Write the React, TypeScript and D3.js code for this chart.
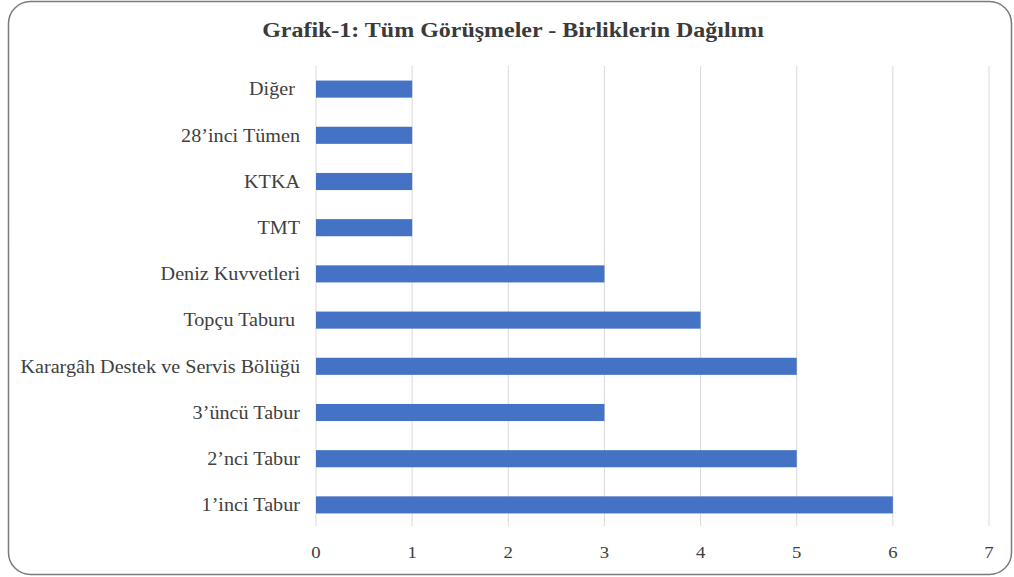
import React from 'react';
import * as d3 from 'd3';

const title = 'Grafik-1: Tüm Görüşmeler - Birliklerin Dağılımı';
const categories = [
  'Diğer ',
  '28’inci Tümen',
  'KTKA',
  'TMT',
  'Deniz Kuvvetleri',
  'Topçu Taburu ',
  'Karargâh Destek ve Servis Bölüğü',
  '3’üncü Tabur',
  '2’nci Tabur',
  '1’inci Tabur',
];
const values = [1, 1, 1, 1, 3, 4, 5, 3, 5, 6];
const xTicks = [0, 1, 2, 3, 4, 5, 6, 7];

const W = 1014;
const H = 577;
const FONT = '"Liberation Serif", "Times New Roman", serif';

export default function App() {
  const x = d3.scaleLinear().domain([0, 7]).range([316, 989]);
  const y = d3.scaleBand<string>()
    .domain(categories)
    .range([66, 528])
    .paddingInner(0.63)
    .paddingOuter(0.315);

  return (
    <svg width={W} height={H} style={{ position: 'absolute', left: 0, top: 0, background: '#fff' }}>
      <rect x={8.5} y={1.5} width={1003} height={573} rx={22} ry={22}
        fill="#fff" stroke="#7a7a7a" strokeWidth={1.5} />
      {/* source text looks a bit stretched sideways, so scale x */}
      <text transform="translate(513,37) scale(1.09,1)" textAnchor="middle" fontFamily={FONT}
        fontWeight="bold" fontSize={22} fill="#3a3a3a">{title}</text>

      {/* grid */}
      {xTicks.map(t => (
        <line key={t} x1={x(t)} x2={x(t)} y1={66} y2={526} stroke="#d9d9d9" strokeWidth={1} />
      ))}

      {/* bars */}
      {categories.map((c, i) => (
        <rect key={c} x={x(0)} y={y(c)} width={x(values[i]) - x(0)} height={y.bandwidth()}
          fill="#4472c4" />
      ))}

      {/* category labels */}
      {categories.map(c => (
        <text key={c}
          transform={`translate(300,${(y(c) ?? 0) + y.bandwidth() / 2}) scale(1.12,1)`}
          dy="0.35em" textAnchor="end" fontFamily={FONT} fontSize={18} fill="#404040"
          style={{ whiteSpace: 'pre' }}>{c}</text>
      ))}

      {/* x tick labels */}
      {xTicks.map(t => (
        <text key={t} transform={`translate(${x(t)},558) scale(1.1,1)`} textAnchor="middle"
          fontFamily={FONT} fontSize={17} fill="#404040">{t}</text>
      ))}
    </svg>
  );
}
